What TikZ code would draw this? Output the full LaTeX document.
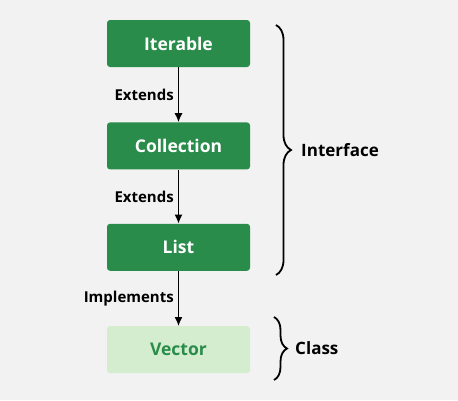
\documentclass[tikz,border=0pt]{standalone}
\usepackage{fontspec}
\setmainfont{Open Sans}
\usetikzlibrary{arrows.meta,positioning,decorations.pathreplacing}
\definecolor{gfgreen}{HTML}{2A8C4A}
\definecolor{lightgreen}{HTML}{D4EDCF}
\definecolor{bggray}{HTML}{F2F2F2}
\begin{document}
\begin{tikzpicture}[x=1pt,y=-1pt,
 box/.style={fill=gfgreen,text=white,rounded corners=3pt,minimum width=143pt,
 minimum height=47pt,font=\fontsize{17.5}{20}\selectfont\bfseries},
 lbl/.style={left,inner sep=4pt,font=\fontsize{15}{18}\selectfont\bfseries},
 brc/.style={decorate,decoration={brace,amplitude=15pt},line width=1.8pt},
 >={Latex[length=9pt,width=8pt]}]
\useasboundingbox[fill=bggray] (0,0) rectangle (458,400);
\node[box] (it) at (178.5,43.5) {Iterable};
\node[box,below=55pt of it] (col) {Collection};
\node[box,below=54pt of col] (lst) {List};
\node[box,below=55pt of lst,fill=lightgreen,text=gfgreen] (vec) {Vector};
\draw[->,line width=1.4pt] (it) -- node[lbl]{Extends} (col);
\draw[->,line width=1.4pt] (col) -- node[lbl]{Extends} (lst);
\draw[->,line width=1.4pt] (lst) -- node[lbl]{Implements} (vec);
% braces on the right
\coordinate (ia) at (276,25);
\coordinate (ib) at (276,275);
\coordinate (ca) at (274,317);
\coordinate (cb) at (274,380);
\draw[brc] (ia) -- node[right=21pt,font=\fontsize{17}{20}\selectfont\bfseries] (intf) {Interface} (ib);
\draw[brc,decoration={amplitude=13pt}] (ca) -- node[right=17pt,font=\fontsize{17}{20}\selectfont\bfseries] (cls) {Class} (cb);
\end{tikzpicture}
\end{document}
